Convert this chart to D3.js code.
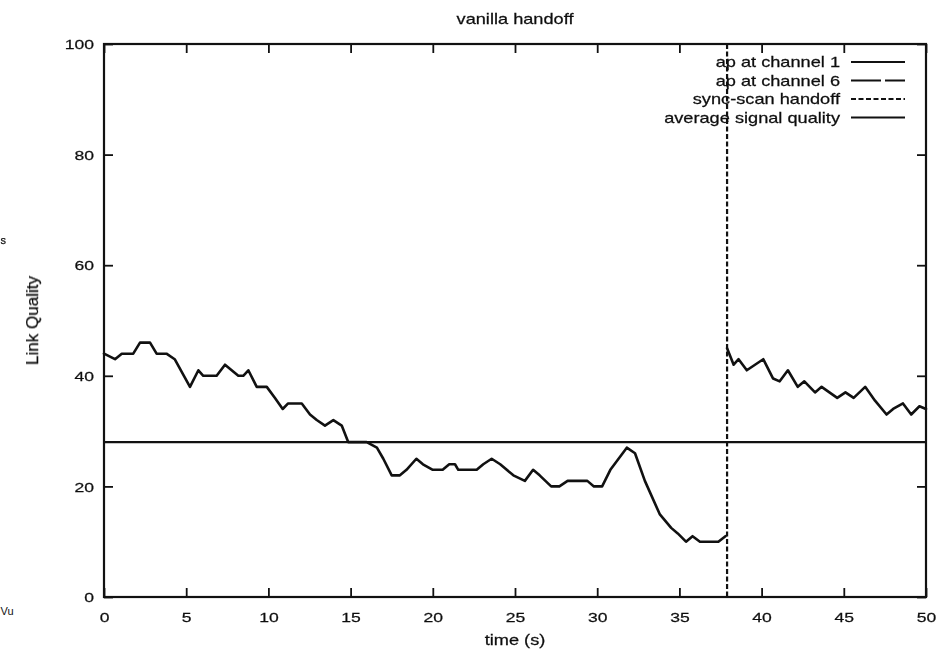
<!DOCTYPE html>
<html><head><meta charset="utf-8">
<script src="https://cdn.jsdelivr.net/npm/d3@7"></script>
<style>
html,body{margin:0;padding:0;background:#fff;}
svg{display:block;}
text{font-family:"Liberation Sans",Arial,Helvetica,sans-serif;fill:#111;stroke:#111;stroke-width:0.25px;}
</style></head><body>
<svg id="chart" width="939" height="653"></svg>
<script>
// Link quality samples while associated with the AP on channel 1 (time s, quality)
const ch1Time = [0, 0.67, 1.08, 1.78, 2.19, 2.8, 3.2, 3.8, 4.3, 5.23, 5.74, 6.04, 6.85, 7.36, 8.17, 8.47, 8.78, 9.29, 9.9, 10.4, 10.87, 11.2, 12.03, 12.53, 12.94, 13.44, 13.95, 14.46, 14.86, 15.98, 16.6, 16.99, 17.5, 18.0, 18.4, 19.0, 19.4, 20.0, 20.6, 21.0, 21.35, 21.55, 22.67, 23.07, 23.58, 24.1, 24.9, 25.6, 26.1, 26.5, 27.2, 27.7, 28.2, 29.4, 29.8, 30.3, 30.8, 31.3, 31.8, 32.3, 32.9, 33.8, 34.5, 34.9, 35.4, 35.8, 36.25, 37.37, 37.8];
const ch1Quality = [44, 43, 44, 44, 46, 46, 44, 44, 43, 38, 41, 40, 40, 42, 40, 40, 41, 38, 38, 36, 34, 35, 35, 33, 32, 31, 32, 31, 28, 28, 27, 25, 22, 22, 23, 25, 24, 23, 23, 24, 24, 23, 23, 24, 25, 24, 22, 21, 23, 22, 20, 20, 21, 21, 20, 20, 23, 25, 27, 26, 21, 15, 12.5, 11.5, 10, 11, 10, 10, 11];
// Link quality after the handoff to the AP on channel 6
const ch6Time = [37.9, 38.3, 38.6, 39.1, 39.6, 40.1, 40.7, 41.1, 41.6, 42.2, 42.6, 43.25, 43.65, 44.6, 45.1, 45.6, 46.3, 46.9, 47.6, 48.0, 48.6, 49.1, 49.6, 50];
const ch6Quality = [45, 42, 43, 41, 42, 43, 39.5, 39, 41, 38, 39, 37, 38, 36, 37, 36, 38, 35.5, 33, 34, 35, 33, 34.5, 34];
const averageQuality = 28;
const handoffTime = 37.9;
const xTicks = [0, 5, 10, 15, 20, 25, 30, 35, 40, 45, 50];
const yTicks = [0, 20, 40, 60, 80, 100];
const legendLabels = ["ap at channel 1", "ap at channel 6", "sync-scan handoff", "average signal quality"];
const legendDashes = [null, "30,4", "5,2.5", null];

const W = 939, H = 653;
const margin = {left: 104, right: 13, top: 44, bottom: 56};
const iw = W - margin.left - margin.right, ih = H - margin.top - margin.bottom;
const SX = 1.3;   // wide lettering
const FS = 14;

const svg = d3.select("#chart");
const defs = svg.append("defs");
defs.append("filter").attr("id", "soft").append("feGaussianBlur").attr("stdDeviation", 0.4);

const g = svg.append("g").attr("transform", `translate(${margin.left},${margin.top})`);
const x = d3.scaleLinear().domain([0, 50]).range([0, iw]);
const y = d3.scaleLinear().domain([0, 100]).range([ih, 0]);

function wideText(parent, tx, ty, str, anchor, size) {
  return parent.append("g").attr("transform", `translate(${tx},${ty}) scale(${SX},1)`)
    .append("text").attr("text-anchor", anchor).attr("font-size", size)
    .attr("filter", "url(#soft)").text(str);
}

// Inward ticks on all four sides
const tick = 9;
const axB = g.append("g").attr("transform", `translate(0,${ih})`)
  .call(d3.axisBottom(x).tickValues(xTicks).tickSizeInner(-tick).tickSizeOuter(0).tickPadding(0));
const axL = g.append("g")
  .call(d3.axisLeft(y).tickValues(yTicks).tickSizeInner(-tick).tickSizeOuter(0).tickPadding(0));
const axT = g.append("g")
  .call(d3.axisTop(x).tickValues(xTicks).tickSizeInner(-tick).tickSizeOuter(0).tickFormat(""));
const axR = g.append("g").attr("transform", `translate(${iw},0)`)
  .call(d3.axisRight(y).tickValues(yTicks).tickSizeInner(-tick).tickSizeOuter(0).tickFormat(""));
[axB, axL, axT, axR].forEach(a => {
  a.select(".domain").remove();
  a.selectAll("line").attr("stroke", "#111").attr("stroke-width", 1.8);
});
axB.selectAll("text").attr("font-family", null).attr("font-size", 13.5).attr("fill", null)
  .attr("y", 25).attr("dy", null).attr("transform", `scale(${SX},1)`).attr("filter", "url(#soft)");
axL.selectAll("text").attr("font-family", null).attr("font-size", 13.5).attr("fill", null)
  .attr("x", -10 / SX).attr("dy", "0.35em").attr("transform", `scale(${SX},1)`).attr("filter", "url(#soft)");

// Frame
g.append("rect").attr("x", 0).attr("y", 0).attr("width", iw).attr("height", ih)
  .attr("fill", "none").attr("stroke", "#111").attr("stroke-width", 2.2);

// Average signal quality
g.append("line").attr("x1", 0).attr("x2", iw).attr("y1", y(averageQuality)).attr("y2", y(averageQuality))
  .attr("stroke", "#111").attr("stroke-width", 2.2);

// Sync-scan handoff moment
g.append("line").attr("x1", x(handoffTime)).attr("x2", x(handoffTime)).attr("y1", 0).attr("y2", ih)
  .attr("stroke", "#111").attr("stroke-width", 2.2).attr("stroke-dasharray", "5,2.5");

const line = d3.line().x(d => x(d[0])).y(d => y(d[1]));
[d3.zip(ch1Time, ch1Quality), d3.zip(ch6Time, ch6Quality)].forEach(pts => {
  g.append("path").datum(pts).attr("d", line)
    .attr("fill", "none").attr("stroke", "#111").attr("stroke-width", 2.6)
    .attr("stroke-linejoin", "round").attr("stroke-linecap", "round");
});

// Legend
const lg = svg.append("g");
legendLabels.forEach((lab, i) => {
  const cy = 62 + i * 18.5;
  wideText(lg, 840, cy + 5, lab, "end", FS);
  const l = lg.append("line").attr("x1", 851).attr("x2", 905).attr("y1", cy).attr("y2", cy)
    .attr("stroke", "#111").attr("stroke-width", 2.2);
  if (legendDashes[i]) l.attr("stroke-dasharray", legendDashes[i]);
});

// Titles
wideText(svg, margin.left + iw / 2, 24, "vanilla handoff", "middle", FS);
wideText(svg, margin.left + iw / 2, 645, "time (s)", "middle", FS);
svg.append("text").attr("transform", `translate(38,${margin.top + ih / 2}) rotate(-90)`)
  .attr("text-anchor", "middle").attr("font-size", 17).attr("filter", "url(#soft)").text("Link Quality");

// Small lettering at the left edge
svg.append("text").attr("x", 0.5).attr("y", 244).attr("font-size", 11).attr("filter", "url(#soft)").text("s");
svg.append("text").attr("x", 0.5).attr("y", 615).attr("font-size", 11).attr("font-family", "DejaVu Sans")
  .style("stroke-width", 0).text("Vu");
</script>
</body></html>
